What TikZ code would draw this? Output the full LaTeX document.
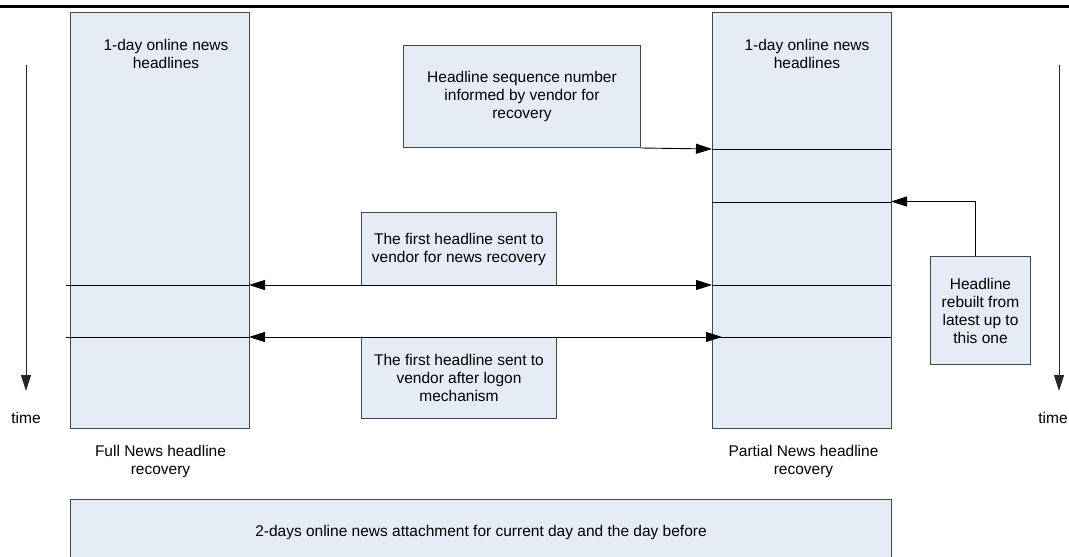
\documentclass[tikz,border=0pt]{standalone}
\usepackage{fontspec}
\setmainfont{Liberation Sans}
\usetikzlibrary{arrows.meta}
\definecolor{boxfill}{RGB}{230,236,246}
\definecolor{boxline}{RGB}{70,70,70}
\begin{document}
\begin{tikzpicture}[x=1pt,y=-1pt,
  every node/.style={font=\fontsize{15.5}{18}\selectfont},
  column/.style={draw=boxline,fill=boxfill,line width=1pt,minimum width=179pt,minimum height=416pt,inner sep=0pt,anchor=north west},
  note/.style={draw=boxline,fill=boxfill,line width=1pt,align=center,inner sep=0pt,anchor=north west},
  lbl/.style={align=center,inner sep=0pt},
  divider/.style={draw=black,line width=0.9pt},
  tip/.style={line width=0.9pt,-{Triangle[length=16pt,width=10pt]}},
  dtip/.style={line width=0.9pt,{Triangle[length=16pt,width=10pt]}-{Triangle[length=16pt,width=10pt]}}]
\useasboundingbox (0,0) rectangle (1069,557);
\draw[line width=3pt] (0,6.5) -- (1069,6.5);
% columns
\node[column] (lbox) at (70,12) {};
\node[column] (rbox) at (712,12) {};
\node[lbl] (lhead) at (166,54) {1-day online news\\headlines};
\node[lbl] (rhead) at (807,54) {1-day online news\\headlines};
% dividers
\draw[divider] (712,149) -- (891,149);
\draw[divider] (712,202) -- (891,202);
\draw[divider] (712,285) -- (891,285);
\draw[divider] (712,337) -- (891,337);
\draw[divider] (66,285) -- (249,285);
\draw[divider] (66,337) -- (249,337);
% notes
\node[note,minimum width=237pt,minimum height=102pt] (seq) at (403,45) {Headline sequence number\\informed by vendor for\\recovery};
\node[note,minimum width=195pt,minimum height=73pt] (m1) at (361,212) {The first headline sent to\\vendor for news recovery};
\node[note,minimum width=195pt,minimum height=81pt] (m2) at (361,337) {The first headline sent to\\vendor after logon\\mechanism};
\node[note,minimum width=100pt,minimum height=108pt] (hb) at (930,256) {Headline\\rebuilt from\\latest up to\\this one};
\node[note,minimum width=821pt,minimum height=66pt] (bot) at (70,499) {2-days online news attachment for current day and the day before};
% captions
\node[lbl] (lcap) at (160.5,461) {Full News headline\\recovery};
\node[lbl] (rcap) at (803.5,461) {Partial News headline\\recovery};
% time axes
\coordinate (lt0) at (26,65);
\coordinate (lt1) at (26,391);
\coordinate (rt0) at (1059,65);
\coordinate (rt1) at (1059,391);
\draw[tip,draw=black!85] (lt0) -- (lt1);
\draw[tip,draw=black!85] (rt0) -- (rt1);
\node[lbl] (ltime) at (26,418) {time};
\node[lbl] (rtime) at (1053,418) {time};
% connectors
\coordinate (r149) at (712,149);
\coordinate (r202) at (891,201.5);
\coordinate (l285) at (249,285);
\coordinate (r285) at (712,285);
\coordinate (l337) at (249,337);
\coordinate (r337) at (722,337);
\draw[tip] (seq.south east) -- (r149);
\draw[tip] ([xshift=-5pt]hb.north) |- (r202);
\draw[dtip] (l285) -- (r285);
\draw[dtip] (l337) -- (r337);
\end{tikzpicture}
\end{document}
